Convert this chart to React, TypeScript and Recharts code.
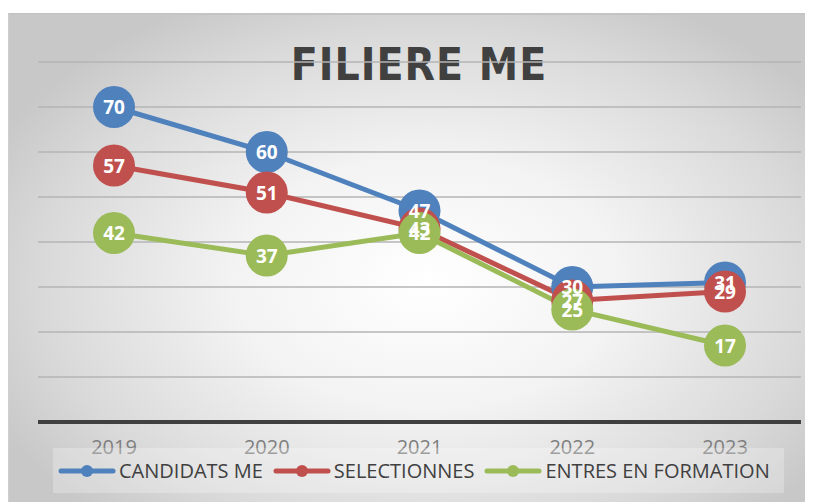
import React from "react";
import { LineChart, Line, XAxis, YAxis, CartesianGrid, Legend } from "recharts";

const years = ["2019", "2020", "2021", "2022", "2023"];
const candidats = [70, 60, 47, 30, 31];
const selectionnes = [57, 51, 43, 27, 29];
const entres = [42, 37, 42, 25, 17];
const yTicks = [0, 10, 20, 30, 40, 50, 60, 70, 80];

const series = [
  { key: "candidats", name: "CANDIDATS ME", color: "#4f81bd" },
  { key: "selectionnes", name: "SELECTIONNES", color: "#c0504d" },
  { key: "entres", name: "ENTRES EN FORMATION", color: "#9bbb59" },
];

const data = years.map((year, i) => ({
  year,
  candidats: candidats[i],
  selectionnes: selectionnes[i],
  entres: entres[i],
}));

// etiquette blanche au centre du point
function renderValue(props: any) {
  const { x, y, value } = props;
  if (x == null || y == null) return null;
  return (
    <text
      x={x}
      y={y}
      textAnchor="middle"
      dominantBaseline="central"
      fill="#ffffff"
      fontWeight={700}
      fontSize={19}
      fontFamily="Open Sans"
    >
      {value}
    </text>
  );
}

function LegendContent() {
  return (
    <div
      style={{
        display: "flex",
        alignItems: "center",
        height: 45,
        paddingLeft: 5,
        background: "rgba(255,255,255,0.25)",
        fontFamily: "Open Sans",
        fontSize: 20,
        color: "#404040",
        whiteSpace: "nowrap",
      }}
    >
      {series.map((s) => (
        <div key={s.key} style={{ display: "flex", alignItems: "center", marginRight: 10, flexShrink: 0 }}>
          <svg width={58} height={14} style={{ marginRight: 3, flexShrink: 0 }}>
            <line x1={3} y1={7} x2={55} y2={7} stroke={s.color} strokeWidth={5} strokeLinecap="round" />
            <circle cx={29} cy={7} r={6} fill={s.color} />
          </svg>
          <span>{s.name}</span>
        </div>
      ))}
    </div>
  );
}

export default function App(): React.JSX.Element {
  return (
    <div
      style={{
        position: "relative",
        marginTop: 5,
        width: 805,
        height: 489,
        boxSizing: "border-box",
        borderTop: "2px solid #c4c4c4",
        borderLeft: "1px solid #cfcfcf",
        background: "radial-gradient(ellipse 60% 65% at 52% 55%, #ffffff 0%, #f3f3f3 40%, #d9d9d9 80%, #c8c8c8 100%)",
      }}
    >
      <div
        style={{
          position: "absolute",
          top: 22,
          left: 8,
          width: "100%",
          textAlign: "center",
          fontFamily: "DejaVu Sans Condensed",
          fontWeight: 700,
          fontSize: 44,
          lineHeight: "56px",
          letterSpacing: 1,
          color: "#404040",
        }}
      >
        FILIERE ME
      </div>
      <LineChart width={805} height={487} data={data} margin={{ top: 47, right: 13, left: 29, bottom: 9 }}>
        <CartesianGrid vertical={false} stroke="#b5b5b5" strokeWidth={1.5} />
        <XAxis
          dataKey="year"
          padding={{ left: 76, right: 76 }}
          height={26}
          tickLine={false}
          tickMargin={12}
          axisLine={{ stroke: "#404040", strokeWidth: 4 }}
          tick={{ fill: "#7f7f7f", fontSize: 20, fontFamily: "Open Sans" }}
        />
        <YAxis hide domain={[0, 80]} ticks={yTicks} />
        <Legend
          verticalAlign="bottom"
          height={45}
          content={<LegendContent />}
          wrapperStyle={{ left: 44, width: 731 }}
        />
        {series.map((s) => (
          <Line
            key={s.key}
            dataKey={s.key}
            name={s.name}
            stroke={s.color}
            strokeWidth={5}
            dot={{ r: 21, fill: s.color, stroke: s.color, strokeWidth: 0 }}
            activeDot={false}
            isAnimationActive={false}
          />
        ))}
        {series.map((s) => (
          <Line
            key={s.key + "-labels"}
            dataKey={s.key}
            legendType="none"
            stroke="none"
            dot={false}
            activeDot={false}
            label={renderValue}
            isAnimationActive={false}
          />
        ))}
      </LineChart>
    </div>
  );
}
